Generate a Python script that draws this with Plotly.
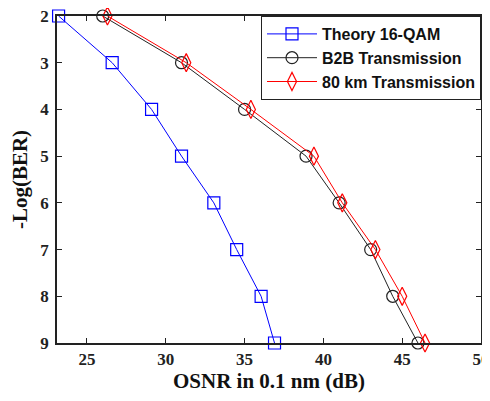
import plotly.graph_objects as go

log_ber = [2, 3, 4, 5, 6, 7, 8, 9]
theory_osnr = [23.2, 26.6, 29.1, 31.0, 33.05, 34.5, 36.05, 36.9]
b2b_osnr = [26.0, 31.0, 35.0, 38.9, 41.0, 43.0, 44.4, 46.0]
km80_osnr = [26.3, 31.3, 35.4, 39.4, 41.2, 43.3, 45.0, 46.45]

fig = go.Figure()
fig.add_trace(go.Scatter(x=theory_osnr, y=log_ber, name="Theory 16-QAM", mode="lines+markers",
                         line=dict(color="#0000ff", width=1),
                         marker=dict(symbol="square-open", size=12, color="#0000ff", line=dict(width=1.2)),
                         cliponaxis=False))
fig.add_trace(go.Scatter(x=b2b_osnr, y=log_ber, name="B2B Transmission", mode="lines+markers",
                         line=dict(color="#222222", width=1),
                         marker=dict(symbol="circle-open", size=12, color="#222222", line=dict(width=1.2)),
                         cliponaxis=False))
fig.add_trace(go.Scatter(x=km80_osnr, y=log_ber, name="80 km Transmission", mode="lines+markers",
                         line=dict(color="#ff0000", width=1),
                         marker=dict(symbol="diamond-tall-open", size=13, color="#ff0000", line=dict(width=1.2)),
                         cliponaxis=False))

axis_common = dict(showline=True, linecolor="#222222", linewidth=1.5, mirror="ticks",
                   ticks="inside", ticklen=5, tickcolor="#222222", showgrid=False, zeroline=False,
                   automargin=False, ticklabeloverflow="allow",
                   tickfont=dict(family="Liberation Serif", size=17, color="#222222", weight="bold"))

fig.update_layout(
    width=482, height=385,
    margin=dict(l=49, r=9, t=8, b=50),
    paper_bgcolor="white", plot_bgcolor="white",
    xaxis=dict(range=[23.1, 50], tickvals=[25, 30, 35, 40, 45, 50],
               title=dict(text="OSNR in 0.1 nm (dB)", standoff=4,
                          font=dict(family="Liberation Serif", size=21, color="#111111", weight="bold")),
               **axis_common),
    yaxis=dict(range=[9, 2], tickvals=log_ber, ticklabelstandoff=3,
               title=dict(text="-Log(BER)", standoff=14,
                          font=dict(family="Liberation Serif", size=21, color="#111111", weight="bold")),
               **axis_common),
    legend=dict(x=1, y=1, xanchor="right", yanchor="top", bgcolor="white",
                bordercolor="#222222", borderwidth=1, itemwidth=50,
                font=dict(family="Liberation Sans", size=16, color="#111111", weight="bold"),
                tracegroupgap=0),
    showlegend=True,
)

fig.write_html("out.html")
